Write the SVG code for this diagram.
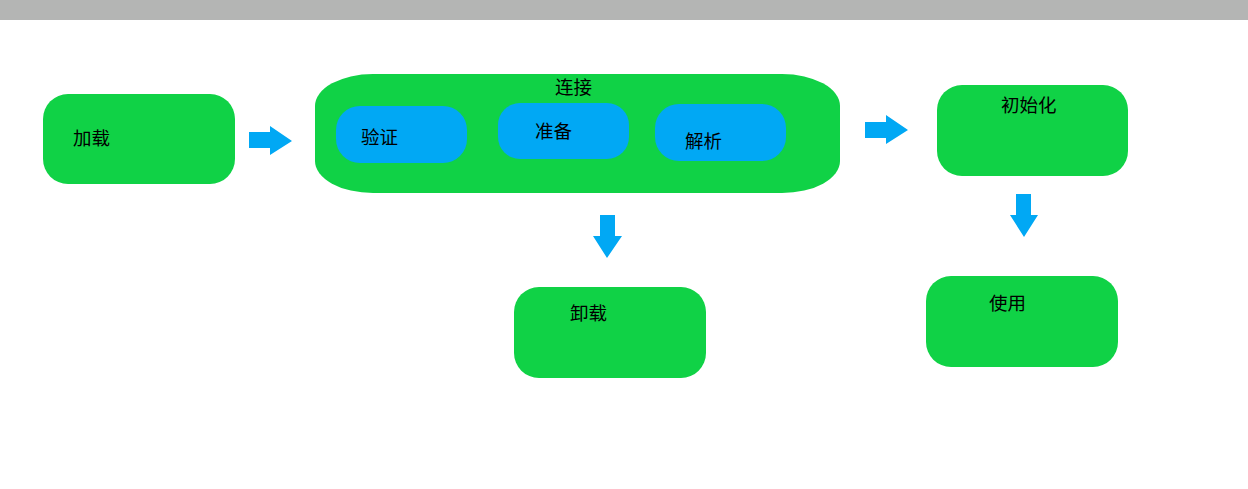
<svg xmlns="http://www.w3.org/2000/svg" width="1248" height="489" viewBox="0 0 1248 489">
<style>
.g{fill:#10d246}
.b{fill:#01a8f4}
.t{font-family:"Noto Sans CJK SC","Noto Sans",sans-serif;font-size:18.5px;fill:#000}
</style>
<rect x="0" y="0" width="1248" height="489" fill="#ffffff"/>
<rect x="0" y="0" width="1248" height="20" fill="#b4b5b4"/>
<g id="load"><rect class="g" x="43" y="94" width="192" height="90" rx="25" ry="25"/><text class="t" x="73" y="145">加载</text></g>
<g id="link">
<rect class="g" x="315" y="74" width="525" height="119" rx="58" ry="32"/>
<text class="t" x="555" y="94">连接</text>
<g id="verify"><rect class="b" x="336" y="106" width="131" height="57" rx="24" ry="24"/><text class="t" x="361" y="144">验证</text></g>
<g id="prepare"><rect class="b" x="498" y="103" width="131" height="56" rx="22" ry="22"/><text class="t" x="535" y="138">准备</text></g>
<g id="resolve"><rect class="b" x="655" y="104" width="131" height="57" rx="24" ry="24"/><text class="t" x="685" y="148">解析</text></g>
</g>
<g id="init"><rect class="g" x="937" y="85" width="191" height="91" rx="25" ry="25"/><text class="t" x="1001" y="112">初始化</text></g>
<g id="unload"><rect class="g" x="514" y="287" width="192" height="91" rx="25" ry="25"/><text class="t" x="570" y="320">卸载</text></g>
<g id="use"><rect class="g" x="926" y="276" width="192" height="91" rx="25" ry="25"/><text class="t" x="989" y="310">使用</text></g>
<g id="connectors">
<polygon class="b" points="249,132 270,132 270,126 292,141 270,155 270,148 249,148"/>
<polygon class="b" points="865,122 886,122 886,115 908,130 886,144 886,138 865,138"/>
<polygon class="b" points="600,215 615,215 615,236 622,236 607,258 593,236 600,236"/>
<polygon class="b" points="1016,194 1031,194 1031,215 1038,215 1024,237 1010,215 1016,215"/>
</g>
</svg>
